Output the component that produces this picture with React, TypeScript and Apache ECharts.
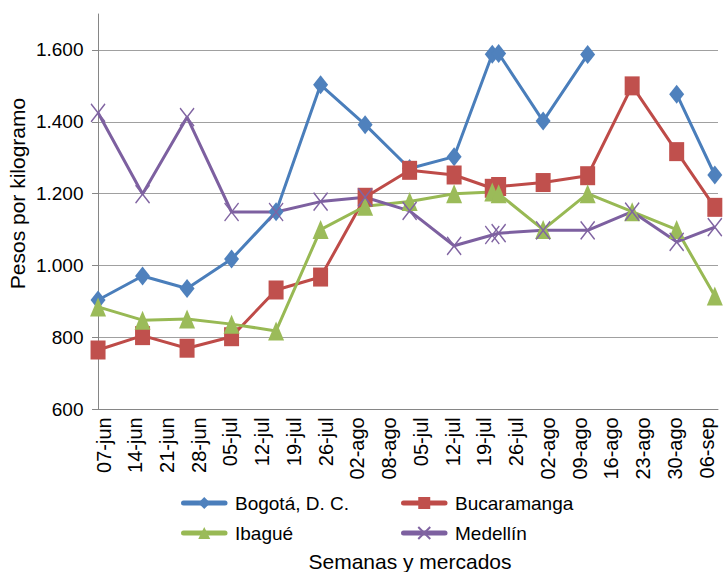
import React, { useEffect, useRef } from "react";
import * as echarts from "echarts";

// Week labels shown under the axis (as printed in the source chart)
const weekLabels = [
  "07-jun", "14-jun", "21-jun", "28-jun", "05-jul", "12-jul", "19-jul", "26-jul",
  "02-ago", "08-ago", "05-jul", "12-jul", "19-jul", "26-jul", "02-ago", "09-ago",
  "16-ago", "23-ago", "30-ago", "06-sep",
];

// Sampling dates of the observations, in days after 07-jun
const sampleDays = [0, 7, 14, 21, 28, 35, 42, 49, 56, 62, 63, 70, 77, 84, 91, 97];

// Prices (pesos per kilogram)
const bogota = [904, 971, 936, 1018, 1150, 1503, 1392, 1270, 1303, 1588, 1590, 1402, 1587, null, 1477, 1252];
const bucaramanga = [765, 805, 770, 802, 932, 968, 1190, 1265, 1252, 1215, 1220, 1231, 1250, 1500, 1317, 1162];
const ibague = [885, 848, 851, 837, 818, 1100, 1165, 1178, 1200, 1205, 1200, 1100, 1200, 1150, 1100, 915];
const medellin = [1425, 1199, 1413, 1149, 1149, 1178, 1190, 1152, 1055, 1085, 1090, 1098, 1098, 1150, 1066, 1107];

const yTicks = [600, 800, 1000, 1200, 1400, 1600];

const seriesNames = ["Bogotá, D. C.", "Bucaramanga", "Ibagué", "Medellín"];
const yTitle = "Pesos por kilogramo";
const xTitle = "Semanas y mercados";

const FONT = '"Liberation Sans", Arial, Helvetica, sans-serif';

const fmt = (v: number) =>
  v >= 1000 ? `${Math.floor(v / 1000)}.${String(v % 1000).padStart(3, "0")}` : String(v);

const toPairs = (arr: (number | null)[]) =>
  sampleDays.map((d, i) => [d, arr[i] == null ? "-" : arr[i]]);

export default function App() {
  const ref = useRef<HTMLDivElement>(null);

  useEffect(() => {
    if (!ref.current) return;
    const chart = echarts.init(ref.current, undefined, { renderer: "svg" });

    const legendBase = {
      padding: 0,
      itemWidth: 41.5,
      itemHeight: 15,
      selectedMode: false,
      lineStyle: { width: 5, cap: "round" },
      textStyle: { fontSize: 19, color: "#000", fontFamily: FONT, padding: [0, 0, 0, 5] },
    };

    const option: any = {
      animation: false,
      textStyle: { fontFamily: FONT },
      grid: [
        { left: 95.5, top: 14, width: 622.5, height: 395.3, outerBoundsMode: "none" },
        { left: 103.5, top: 14, width: 603, height: 395.3, outerBoundsMode: "none" },
      ],
      xAxis: [
        {
          type: "value",
          gridIndex: 0,
          min: -0.4,
          max: 97.5,
          axisLine: { show: true, lineStyle: { color: "#868686", width: 1 } },
          axisTick: { show: false },
          axisLabel: { show: false },
          splitLine: { show: false },
        },
        {
          type: "category",
          gridIndex: 1,
          data: weekLabels,
          boundaryGap: false,
          axisLine: { show: false },
          axisTick: { show: false },
          splitLine: { show: false },
          axisLabel: {
            interval: 0,
            rotate: 90,
            margin: 8,
            fontSize: 20,
            color: "#000",
            fontFamily: FONT,
            hideOverlap: false,
          },
        },
      ],
      yAxis: [
        {
          type: "value",
          gridIndex: 0,
          min: 600,
          max: 1700,
          interval: 200,
          axisLine: { show: true, lineStyle: { color: "#868686", width: 1 } },
          axisTick: {
            show: true,
            length: 6,
            lineStyle: { color: "#868686" },
            customValues: yTicks,
          },
          axisLabel: {
            customValues: yTicks,
            margin: 12,
            fontSize: 19,
            color: "#000",
            fontFamily: FONT,
            formatter: fmt,
          },
          splitLine: {
            show: true,
            lineStyle: { color: "#a0a0a0", width: 1 },
          },
        },
        { type: "value", gridIndex: 1, show: false, min: 0, max: 1 },
      ],
      legend: [
        { ...legendBase, data: [seriesNames[0]], left: 181, top: 493.5 },
        { ...legendBase, data: [seriesNames[1]], left: 401, top: 493.5 },
        { ...legendBase, data: [seriesNames[2]], left: 181, top: 523.5 },
        { ...legendBase, data: [seriesNames[3]], left: 401, top: 523.5 },
      ],
      graphic: [
        {
          type: "text",
          x: 17,
          y: 193.5,
          rotation: Math.PI / 2,
          style: {
            text: yTitle,
            fontSize: 21,
            fontFamily: FONT,
            fill: "#000",
            align: "center",
            verticalAlign: "middle",
          },
        },
        {
          type: "text",
          x: 410,
          y: 561,
          style: {
            text: xTitle,
            fontSize: 21,
            fontFamily: FONT,
            fill: "#000",
            align: "center",
            verticalAlign: "middle",
          },
        },
      ],
      series: [
        {
          type: "line",
          name: seriesNames[0],
          xAxisIndex: 0,
          yAxisIndex: 0,
          data: toPairs(bogota),
          connectNulls: false,
          symbol: "diamond",
          symbolSize: [15, 19],
          lineStyle: { color: "#4A7EBB", width: 3 },
          itemStyle: { color: "#4F81BD" },
        },
        {
          type: "line",
          name: seriesNames[1],
          xAxisIndex: 0,
          yAxisIndex: 0,
          data: toPairs(bucaramanga),
          symbol: "rect",
          symbolSize: [15, 19],
          lineStyle: { color: "#BE4B48", width: 3 },
          itemStyle: { color: "#C0504D" },
        },
        {
          type: "line",
          name: seriesNames[2],
          xAxisIndex: 0,
          yAxisIndex: 0,
          data: toPairs(ibague),
          symbol: "triangle",
          symbolSize: [16, 19],
          lineStyle: { color: "#98B954", width: 3 },
          itemStyle: { color: "#9BBB59" },
        },
        {
          type: "line",
          name: seriesNames[3],
          xAxisIndex: 0,
          yAxisIndex: 0,
          data: toPairs(medellin),
          symbol: "path://M0 0L10 10M10 0L0 10",
          symbolSize: [14, 18],
          lineStyle: { color: "#7D60A0", width: 3 },
          itemStyle: { color: "#8064A2", borderColor: "#8064A2", borderWidth: 1.5 },
        },
      ],
    };

    chart.setOption(option);
    return () => chart.dispose();
  }, []);

  return (
    <div
      ref={ref}
      style={{ position: "fixed", left: 0, top: 0, width: 723, height: 572, background: "#fff" }}
    />
  );
}
